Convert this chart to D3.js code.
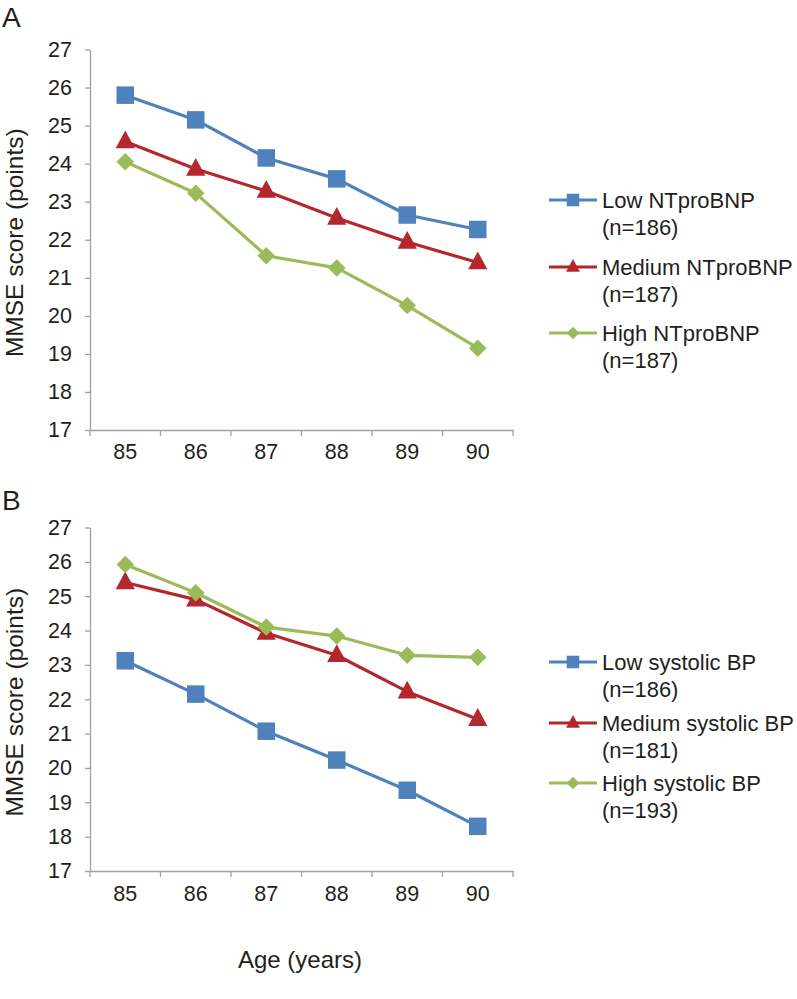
<!DOCTYPE html>
<html>
<head>
<meta charset="utf-8">
<script src="https://cdn.jsdelivr.net/npm/d3@7"></script>
<style>
  body { margin: 0; background: #fff; }
  svg { display: block; font-family: "Liberation Sans", Arial, sans-serif; }
</style>
</head>
<body>
<svg id="chart" width="797" height="999"></svg>
<script>
const ages = ["85", "86", "87", "88", "89", "90"];
const yTicks = [17, 18, 19, 20, 21, 22, 23, 24, 25, 26, 27];

// Panel A: NTproBNP tertiles
const lowNT = [25.8, 25.15, 24.15, 23.6, 22.65, 22.27];
const medNT = [24.58, 23.86, 23.28, 22.57, 21.94, 21.4];
const highNT = [24.05, 23.22, 21.58, 21.26, 20.27, 19.15];
const labelsA = [["Low NTproBNP", "(n=186)"], ["Medium NTproBNP", "(n=187)"], ["High NTproBNP", "(n=187)"]];

// Panel B: systolic BP tertiles
const lowBP = [23.12, 22.15, 21.07, 20.23, 19.35, 18.3];
const medBP = [25.4, 24.9, 23.93, 23.28, 22.22, 21.42];
const highBP = [25.92, 25.1, 24.1, 23.84, 23.28, 23.22];
const labelsB = [["Low systolic BP", "(n=186)"], ["Medium systolic BP", "(n=181)"], ["High systolic BP", "(n=193)"]];

const colors = ["#4F81BD", "#B3272D", "#9BBB59"];
const shapes = ["square", "triangle", "diamond"];

const svg = d3.select("#chart");
const textColor = "#231f20";

function markerPath(shape, s) {
  if (shape === "square") return d3.symbol(d3.symbolSquare, s * s)();
  if (shape === "triangle") {
    const w = s * 1.1, h = s * 1.02;
    return `M0,${-h * 0.62}L${w / 2},${h * 0.38}L${-w / 2},${h * 0.38}Z`;
  }
  const r = s * 0.5;
  return `M0,${-r}L${r},0L0,${r}L${-r},0Z`;
}

function panel(cfg) {
  const x = d3.scaleBand().domain(ages).range([90, 513]);
  const y = d3.scaleLinear().domain([17, 27]).range([cfg.bottom, cfg.top]);
  const g = svg.append("g");

  // axes
  const yAxis = d3.axisLeft(y).tickValues(yTicks).tickSize(5).tickSizeOuter(0).tickPadding(13);
  const ya = g.append("g").attr("transform", "translate(90,0)").call(yAxis);
  const xAxis = d3.axisBottom(x).tickSize(0).tickPadding(cfg.xPad);
  const xa = g.append("g").attr("transform", `translate(0,${cfg.bottom})`).call(xAxis);
  // x tick marks at band boundaries
  const bounds = ages.map(a => x(a)).concat([513]);
  xa.selectAll(".bt").data(bounds).enter().append("line")
    .attr("x1", d => d).attr("x2", d => d).attr("y1", 0).attr("y2", 6);
  [ya, xa].forEach(a => {
    a.select(".domain").attr("stroke", "#a0a0a0").attr("stroke-width", 1.3);
    a.selectAll("line").attr("stroke", "#a0a0a0").attr("stroke-width", 1.3);
    a.selectAll("text").attr("font-size", 21.5).attr("fill", textColor)
      .attr("font-family", "Liberation Sans, Arial, sans-serif");
  });

  // y title
  g.append("text")
    .attr("transform", `translate(23,${(cfg.top + cfg.bottom) / 2 + 3}) rotate(-90)`)
    .attr("text-anchor", "middle").attr("font-size", 24.5).attr("fill", textColor)
    .text("MMSE score (points)");

  // panel letter
  g.append("text").attr("x", 2).attr("y", cfg.letterY).attr("font-size", 28)
    .attr("fill", textColor).text(cfg.letter);

  const line = d3.line().x((d, i) => x(ages[i]) + x.bandwidth() / 2).y(d => y(d));
  cfg.series.forEach((s, k) => {
    g.append("path").datum(s).attr("d", line).attr("fill", "none")
      .attr("stroke", colors[k]).attr("stroke-width", 3.2).attr("stroke-linejoin", "round");
  });
  cfg.series.forEach((s, k) => {
    g.selectAll(null).data(s).enter().append("path")
      .attr("d", markerPath(shapes[k], 17.5))
      .attr("transform", (d, i) => `translate(${x(ages[i]) + x.bandwidth() / 2},${y(d)})`)
      .attr("fill", colors[k]);
  });

  // legend
  cfg.legendY.forEach((ly, k) => {
    g.append("line").attr("x1", 549).attr("x2", 597).attr("y1", ly).attr("y2", ly)
      .attr("stroke", colors[k]).attr("stroke-width", 3.2);
    g.append("path").attr("d", markerPath(shapes[k], 12.5))
      .attr("transform", `translate(573,${ly})`).attr("fill", colors[k]);
    const t = g.append("text").attr("x", 602).attr("font-size", 22).attr("fill", textColor);
    t.append("tspan").attr("x", 602).attr("y", ly + 8).text(cfg.labels[k][0]);
    t.append("tspan").attr("x", 602).attr("y", ly + 35).text(cfg.labels[k][1]);
  });
}

panel({
  top: 49.5, bottom: 430, xPad: 14, letter: "A", letterY: 27,
  series: [lowNT, medNT, highNT], labels: labelsA, legendY: [200, 267, 333]
});
panel({
  top: 527.5, bottom: 871, xPad: 15, letter: "B", letterY: 510,
  series: [lowBP, medBP, highBP], labels: labelsB, legendY: [662, 723, 783]
});

svg.append("text").attr("x", 300).attr("y", 968).attr("text-anchor", "middle")
  .attr("font-size", 24).attr("fill", textColor).text("Age (years)");
</script>
</body>
</html>
